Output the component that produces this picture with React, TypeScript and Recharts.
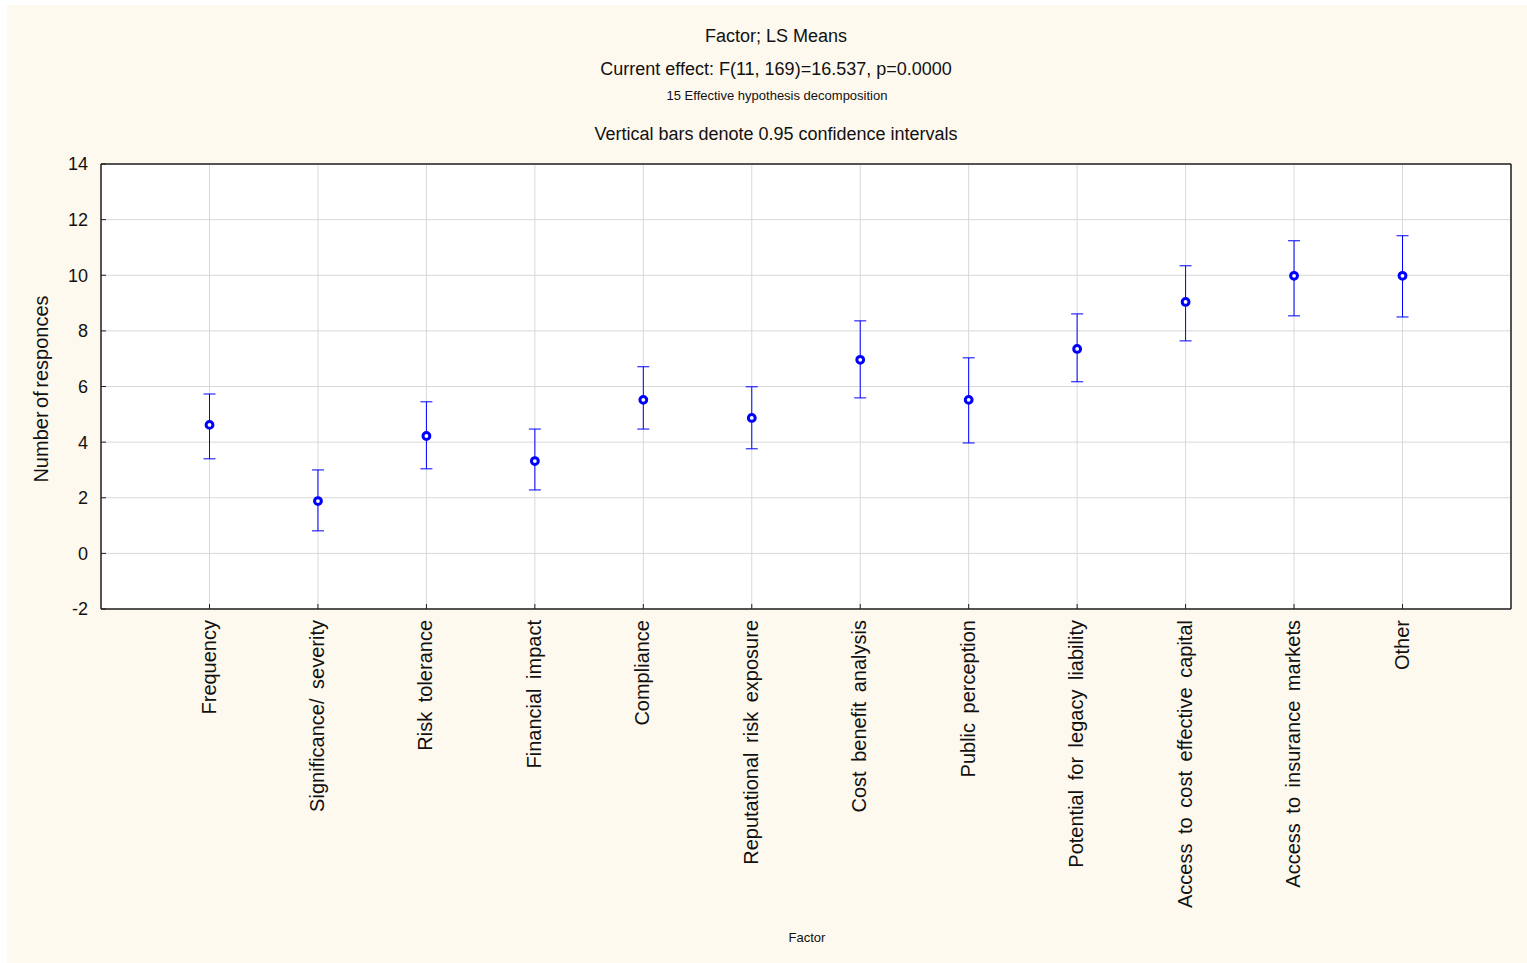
import React from 'react';
import { LineChart, Line, XAxis, YAxis, CartesianGrid, ErrorBar } from 'recharts';

const categories = [
  'Frequency',
  'Significance/ severity',
  'Risk tolerance',
  'Financial impact',
  'Compliance',
  'Reputational risk exposure',
  'Cost benefit analysis',
  'Public perception',
  'Potential for legacy liability',
  'Access to cost effective capital',
  'Access to insurance markets',
  'Other',
];
const means = [4.62, 1.88, 4.22, 3.32, 5.52, 4.87, 6.96, 5.52, 7.35, 9.04, 9.98, 9.98];
const lowers = [3.4, 0.81, 3.04, 2.28, 4.47, 3.76, 5.59, 3.97, 6.17, 7.64, 8.54, 8.5];
const uppers = [5.73, 3.0, 5.45, 4.47, 6.71, 5.99, 8.36, 7.03, 8.61, 10.34, 11.24, 11.42];
const yTicks = [-2, 0, 2, 4, 6, 8, 10, 12, 14];

const data = categories.map((name, i) => ({
  name,
  mean: means[i],
  err: [means[i] - lowers[i], uppers[i] - means[i]],
}));

const FONT = '"Liberation Sans", Arial, sans-serif';
const CREAM = '#FEF9EE';

const XTick = (props: any) => {
  const { x, y, payload } = props;
  return (
    <text
      transform={`translate(${x - 1},${y}) rotate(-90)`}
      textAnchor="end"
      dominantBaseline="central"
      fontFamily={FONT}
      fontSize={20}
      fill="#111"
      style={{ wordSpacing: '4px' }}
    >
      {payload.value}
    </text>
  );
};

const Dot = (props: any) => {
  const { cx, cy, index } = props;
  if (cx == null || cy == null) return null;
  return <circle key={`d${index}`} cx={cx} cy={cy} r={3.4} fill="#fff" stroke="#0000ff" strokeWidth={3} />;
};

export default function App() {
  return (
    <div style={{ position: 'absolute', left: 7, top: 5, width: 1520, height: 958, background: CREAM }}>
      <LineChart
        width={1520}
        height={958}
        data={data}
        margin={{ top: 149, right: 6, left: 34, bottom: 54 }}
      >
        <CartesianGrid xAxisId="bottom" yAxisId="left" stroke="#d8d8d8" strokeWidth={1} fill="#fff" />
        <XAxis
          dataKey="name"
          xAxisId="bottom"
          scale="point"
          padding={{ left: 108.5, right: 108.5 }}
          height={300}
          interval={0}
          tickSize={-5}
          tickMargin={16}
          tick={<XTick />}
          axisLine={{ stroke: '#222', strokeWidth: 1.5 }}
          tickLine={{ stroke: '#222' }}
        />
        <XAxis
          dataKey="name"
          xAxisId="top"
          orientation="top"
          scale="point"
          padding={{ left: 108.5, right: 108.5 }}
          height={10}
          interval={0}
          tickSize={-5}
          tick={false}
          axisLine={{ stroke: '#222', strokeWidth: 1.5 }}
          tickLine={{ stroke: '#222' }}
        />
        <YAxis
          yAxisId="left"
          domain={[-2, 14]}
          ticks={yTicks}
          interval={0}
          width={60}
          tickSize={-5}
          tickMargin={18}
          tick={{ fontFamily: FONT, fontSize: 18, fill: '#111' }}
          axisLine={{ stroke: '#222', strokeWidth: 1.5 }}
          tickLine={{ stroke: '#222' }}
        />
        <YAxis
          yAxisId="right"
          orientation="right"
          domain={[-2, 14]}
          ticks={yTicks}
          interval={0}
          width={10}
          tickSize={-5}
          tick={false}
          axisLine={{ stroke: '#222', strokeWidth: 1.5 }}
          tickLine={{ stroke: '#222' }}
        />
        <Line
          xAxisId="bottom"
          yAxisId="left"
          dataKey="mean"
          stroke="none"
          isAnimationActive={false}
          dot={<Dot />}
          activeDot={false}
        >
          <ErrorBar dataKey="err" width={6} stroke="#0000ff" strokeWidth={1} isAnimationActive={false} />
        </Line>
      </LineChart>
      <svg
        width={1520}
        height={958}
        style={{ position: 'absolute', left: 0, top: 0, pointerEvents: 'none' }}
        fontFamily={FONT}
      >
        <text x={769} y={37} textAnchor="middle" fontSize={18} fill="#111">Factor; LS Means</text>
        <text x={769} y={70} textAnchor="middle" fontSize={18} fill="#111">Current effect: F(11, 169)=16.537, p=0.0000</text>
        <text x={770} y={95} textAnchor="middle" fontSize={13} fill="#111">15 Effective hypothesis decomposition</text>
        <text x={769} y={135} textAnchor="middle" fontSize={18} fill="#111">Vertical bars denote 0.95 confidence intervals</text>
        <text
          transform="translate(34,384) rotate(-90)"
          textAnchor="middle"
          dominantBaseline="central"
          fontSize={20}
          fill="#111"
          style={{ wordSpacing: '-2px' }}
        >
          Number of responces
        </text>
        <text x={800} y={937} textAnchor="middle" fontSize={13} fill="#111">Factor</text>
      </svg>
    </div>
  );
}
